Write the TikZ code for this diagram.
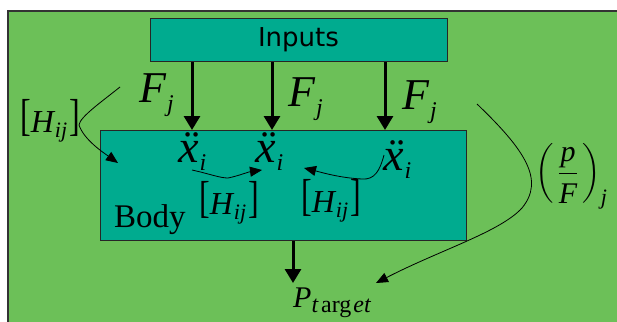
\documentclass[tikz,border=0pt]{standalone}
\usepackage{fontspec}
\usepackage{graphicx}
\usepackage{amsmath}
\usetikzlibrary{arrows.meta}
\newfontfamily\tms{Liberation Serif}
\newfontfamily\dvs{DejaVu Sans}
\definecolor{bggreen}{RGB}{108,192,88}
\definecolor{tealbox}{RGB}{0,171,143}
\newcommand{\fs}[1]{\fontsize{#1}{#1}\selectfont}
\begin{document}
\begin{tikzpicture}[x=1pt,y=-1pt,
  box/.style={draw=black!85,line width=1pt,fill=tealbox,inner sep=0pt},
  lbl/.style={inner sep=0pt,anchor=base west,font=\tms\itshape},
  fat/.style={line width=3pt,-{Triangle[width=16pt,length=14pt]}},
  thin/.style={line width=0.8pt,-{Triangle[width=10pt,length=12pt]}}]
\useasboundingbox (0,0) rectangle (617,321);
\fill[white] (0,0) rectangle (617,321);
\draw[fill=bggreen,draw=black!80,line width=1.5pt] (8,11) rectangle (640,340);
% boxes
\node[box,minimum width=297pt,minimum height=43pt] (inputs) at (298.5,40) {};
\node[inner sep=0pt,anchor=base,font=\dvs\fs{26}] (inputstxt) at (298.5,47) {Inputs};
\node[box,minimum width=366pt,minimum height=110pt] (body) at (283,185.5) {};
\node[inner sep=0pt,anchor=base west,font=\tms\fs{33}] (bodytxt) at (114,227) {Body};
% thick arrows
\coordinate (a1) at (192,0);
\coordinate (a2) at (272,0);
\coordinate (a3) at (385,0);
\coordinate (a4) at (293,0);
\coordinate (ptip) at (293,283);
\draw[fat] (inputs.south -| a1) -- (body.north -| a1);
\draw[fat] (inputs.south -| a2) -- (body.north -| a2);
\draw[fat] (inputs.south -| a3) -- (body.north -| a3);
\draw[fat] (body.south -| a4) -- (ptip);
% F_j labels
\node[lbl] (f1) at (139,102) {\fs{44}F\kern1pt\raisebox{-9pt}{\fs{24}j}};
\node[lbl] (f2) at (288,106) {\fs{44}F\kern1pt\raisebox{-9pt}{\fs{24}j}};
\node[lbl] (f3) at (402,109) {\fs{44}F\kern1pt\raisebox{-9pt}{\fs{24}j}};
% x double dot labels
\node[lbl] (x1) at (178,162) {\fs{46}\"x\kern1pt\raisebox{-8pt}{\fs{24}i}};
\node[lbl] (x2) at (255,162) {\fs{46}\"x\kern1pt\raisebox{-8pt}{\fs{24}i}};
\node[lbl] (x3) at (383,170) {\fs{46}\"x\kern1pt\raisebox{-8pt}{\fs{24}i}};
% H_ij labels
\node[lbl] (h1) at (20,132) {\fs{32}\raisebox{2pt}{\scalebox{1}[1.4]{\upshape[}}H\kern1pt\raisebox{-5pt}{\fs{22}ij}\kern2pt\raisebox{2pt}{\scalebox{1}[1.4]{\upshape]}}};
\node[lbl] (h2) at (199,214) {\fs{32}\raisebox{2pt}{\scalebox{1}[1.4]{\upshape[}}H\kern1pt\raisebox{-5pt}{\fs{22}ij}\kern2pt\raisebox{2pt}{\scalebox{1}[1.4]{\upshape]}}};
\node[lbl] (h3) at (301,212) {\fs{32}\raisebox{2pt}{\scalebox{1}[1.4]{\upshape[}}H\kern1pt\raisebox{-5pt}{\fs{22}ij}\kern2pt\raisebox{2pt}{\scalebox{1}[1.4]{\upshape]}}};
% (p/F)_j
\node[inner sep=0pt,anchor=base west] (pf) at (535,180)
  {\fs{30}$\displaystyle\biggl(\,\frac{\mbox{\tms\itshape\fs{30}\rule[-9pt]{0pt}{1pt}p}}{\mbox{\tms\itshape\fs{30}\rule{0pt}{26pt}F}}\,\biggr)_{\mbox{\tms\itshape\fs{22}j}}$};
% P_target
\node[lbl] (pt) at (293,307) {\fs{30}P\kern0pt\raisebox{-5pt}{\fs{24}t\kern3pt{\upshape arg}\kern2pt et}};
% thin curved arrows
\coordinate (c1s) at (120,87);
\coordinate (c1m) at (79,125);
\coordinate (c1e) at (118,163);
\draw[thin] (c1s) .. controls (100,103) and (80,117) .. (c1m) .. controls (84,140) and (104,153) .. (c1e);
\coordinate (c2s) at (192,170);
\coordinate (c2m) at (228,178);
\coordinate (c2e) at (262,170);
\draw[thin] (c2s) .. controls (210,174) and (220,178) .. (c2m) .. controls (238,176) and (248,172) .. (c2e);
\coordinate (c3s) at (384,155);
\coordinate (c3m) at (362,179);
\coordinate (c3e) at (304,168);
\draw[thin] (c3s) .. controls (380,170) and (375,180) .. (c3m) .. controls (340,178) and (320,172) .. (c3e);
\coordinate (c4s) at (477,104);
\coordinate (c4m) at (522,208);
\coordinate (c4e) at (376,283);
\draw[thin] (c4s) .. controls (525,150) and (545,180) .. (c4m) .. controls (500,232) and (440,250) .. (c4e);
\end{tikzpicture}
\end{document}
